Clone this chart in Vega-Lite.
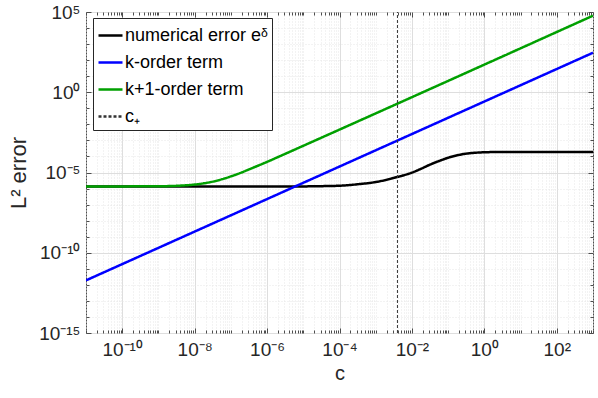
{
  "$schema": "https://vega.github.io/schema/vega-lite/v6.json",
  "width": 507,
  "height": 321,
  "autosize": {"type": "none"},
  "padding": {"left": 86, "top": 12, "right": 5, "bottom": 65},
  "background": "white",
  "config": {
    "font": "Liberation Sans",
    "view": {"stroke": "#4d4d4d", "strokeWidth": 1},
    "axis": {"labelFont": "Liberation Sans", "titleFont": "Liberation Sans", "labelColor": "#262626", "titleColor": "#262626", "titleFontWeight": "normal", "domain": false, "tickColor": "#4d4d4d", "labelOverlap": false, "labelBound": false, "labelFlush": false}
  },
  "data": {"values": [
    {"c": 1e-11, "e": 1.35e-6, "s": "numerical error eᵟ"},
    {"c": 1e-8, "e": 1.35e-6, "s": "numerical error eᵟ"},
    {"c": 1e-6, "e": 1.35e-6, "s": "numerical error eᵟ"},
    {"c": 1e-5, "e": 1.36e-6, "s": "numerical error eᵟ"},
    {"c": 3.16e-5, "e": 1.41e-6, "s": "numerical error eᵟ"},
    {"c": 1e-4, "e": 1.5e-6, "s": "numerical error eᵟ"},
    {"c": 3.16e-4, "e": 1.85e-6, "s": "numerical error eᵟ"},
    {"c": 1e-3, "e": 2.55e-6, "s": "numerical error eᵟ"},
    {"c": 1.78e-3, "e": 3.3e-6, "s": "numerical error eᵟ"},
    {"c": 3.16e-3, "e": 4.6e-6, "s": "numerical error eᵟ"},
    {"c": 5.62e-3, "e": 6.5e-6, "s": "numerical error eᵟ"},
    {"c": 1e-2, "e": 9.8e-6, "s": "numerical error eᵟ"},
    {"c": 1.78e-2, "e": 1.7e-5, "s": "numerical error eᵟ"},
    {"c": 3.16e-2, "e": 3.1e-5, "s": "numerical error eᵟ"},
    {"c": 5.62e-2, "e": 5.2e-5, "s": "numerical error eᵟ"},
    {"c": 0.1, "e": 8.3e-5, "s": "numerical error eᵟ"},
    {"c": 0.178, "e": 1.18e-4, "s": "numerical error eᵟ"},
    {"c": 0.316, "e": 1.5e-4, "s": "numerical error eᵟ"},
    {"c": 0.562, "e": 1.7e-4, "s": "numerical error eᵟ"},
    {"c": 1, "e": 1.82e-4, "s": "numerical error eᵟ"},
    {"c": 3.16, "e": 1.9e-4, "s": "numerical error eᵟ"},
    {"c": 10, "e": 1.9e-4, "s": "numerical error eᵟ"},
    {"c": 1000, "e": 1.9e-4, "s": "numerical error eᵟ"},
    {"c": 1e-11, "e": 1.9e-12, "s": "k-order term"},
    {"c": 1000, "e": 290, "s": "k-order term"},
    {"c": 1e-11, "e": 1.35e-6, "s": "k+1-order term"},
    {"c": 1e-9, "e": 1.39e-6, "s": "k+1-order term"},
    {"c": 3.16e-9, "e": 1.48e-6, "s": "k+1-order term"},
    {"c": 1e-8, "e": 1.78e-6, "s": "k+1-order term"},
    {"c": 1.78e-8, "e": 2.11e-6, "s": "k+1-order term"},
    {"c": 3.16e-8, "e": 2.7e-6, "s": "k+1-order term"},
    {"c": 5.62e-8, "e": 3.78e-6, "s": "k+1-order term"},
    {"c": 1e-7, "e": 5.72e-6, "s": "k+1-order term"},
    {"c": 1.78e-7, "e": 9.15e-6, "s": "k+1-order term"},
    {"c": 3.16e-7, "e": 1.55e-5, "s": "k+1-order term"},
    {"c": 1e-6, "e": 4.6e-5, "s": "k+1-order term"},
    {"c": 3.16e-6, "e": 1.45e-4, "s": "k+1-order term"},
    {"c": 1e-5, "e": 4.62e-4, "s": "k+1-order term"},
    {"c": 1000, "e": 59000, "s": "k+1-order term"},
    {"c": 0.00398, "e": 1e-15, "s": "c₊"},
    {"c": 0.00398, "e": 1e5, "s": "c₊"}
  ]},
  "encoding": {
    "color": {"field": "s", "type": "nominal",
      "scale": {"domain": ["numerical error eᵟ", "k-order term", "k+1-order term", "c₊"], "range": ["#000000", "#0000ff", "#00a000", "#333333"]},
      "legend": {"title": null, "orient": "none", "legendX": 7, "legendY": 6, "fillColor": "white", "strokeColor": "#262626", "padding": 4, "labelFontSize": 18, "labelColor": "#000000", "labelFont": "Liberation Sans", "symbolType": "stroke", "symbolSize": 576, "symbolStrokeWidth": 2.5, "rowPadding": 4, "labelOffset": 1}},
    "strokeDash": {"field": "s", "type": "nominal",
      "scale": {"domain": ["numerical error eᵟ", "k-order term", "k+1-order term", "c₊"], "range": [[1, 0], [1, 0], [1, 0], [3, 2]]},
      "legend": {"title": null}}
  },
  "resolve": {"axis": {"x": "independent", "y": "independent"}},
  "layer": [
    {"transform": [{"filter": "datum.s == 'numerical error eᵟ'"}], "mark": {"type": "line", "strokeWidth": 2.5, "interpolate": "monotone", "clip": true},
     "encoding": {
      "x": {"field": "c", "type": "quantitative",
        "scale": {"type": "log", "domain": [1e-11, 1000], "nice": false},
        "axis": {
          "orient": "bottom",
          "title": "c", "titleFontSize": 20, "titlePadding": 2,
          "labelFontSize": 19, "labelPadding": 12,
          "values": [1e-11,2e-11,3e-11,4e-11,5e-11,6e-11,7e-11,8e-11,9e-11,1e-10,2e-10,3e-10,4e-10,5e-10,6e-10,7e-10,8e-10,9e-10,1e-9,2e-9,3e-9,4e-9,5e-9,6e-9,7e-9,8e-9,9e-9,1e-8,2e-8,3e-8,4e-8,5e-8,6e-8,7e-8,8e-8,9e-8,1e-7,2e-7,3e-7,4e-7,5e-7,6e-7,7e-7,8e-7,9e-7,1e-6,2e-6,3e-6,4e-6,5e-6,6e-6,7e-6,8e-6,9e-6,1e-5,2e-5,3e-5,4e-5,5e-5,6e-5,7e-5,8e-5,9e-5,1e-4,2e-4,3e-4,4e-4,5e-4,6e-4,7e-4,8e-4,9e-4,1e-3,2e-3,3e-3,4e-3,5e-3,6e-3,7e-3,8e-3,9e-3,1e-2,2e-2,3e-2,4e-2,5e-2,6e-2,7e-2,8e-2,9e-2,0.1,0.2,0.3,0.4,0.5,0.6,0.7,0.8,0.9,1,2,3,4,5,6,7,8,9,10,20,30,40,50,60,70,80,90,100,200,300,400,500,600,700,800,900,1000],
          "labelExpr": "abs(log(datum.value)/LN10 - round(log(datum.value)/LN10)) > 0.001 ? '' : round(log(datum.value)/LN10) == -10 ? '10⁻¹⁰' : round(log(datum.value)/LN10) == -8 ? '10⁻⁸' : round(log(datum.value)/LN10) == -6 ? '10⁻⁶' : round(log(datum.value)/LN10) == -4 ? '10⁻⁴' : round(log(datum.value)/LN10) == -2 ? '10⁻²' : round(log(datum.value)/LN10) == 0 ? '10⁰' : round(log(datum.value)/LN10) == 2 ? '10²' : ''",
          "grid": true,
          "gridColor": {"condition": {"test": "abs(log(datum.value)/LN10 - round(log(datum.value)/LN10)) < 0.001 && round(log(datum.value)/LN10) % 2 == 0", "value": "#dedede"}, "value": "#e6e6e6"},
          "gridDash": {"condition": {"test": "abs(log(datum.value)/LN10 - round(log(datum.value)/LN10)) < 0.001 && round(log(datum.value)/LN10) % 2 == 0", "value": []}, "value": [1, 2]},
          "tickSize": {"condition": {"test": "abs(log(datum.value)/LN10 - round(log(datum.value)/LN10)) < 0.001 && round(log(datum.value)/LN10) % 2 == 0", "value": -5}, "value": -3}
        }},
      "y": {"field": "e", "type": "quantitative",
        "scale": {"type": "log", "domain": [1e-15, 1e5], "nice": false},
        "axis": {
          "orient": "left",
          "title": "L² error", "titleFontSize": 22, "titlePadding": 8,
          "labelFontSize": 19, "labelPadding": 11,
          "values": [1e-15,1e-14,1e-13,1e-12,1e-11,1e-10,1e-9,1e-8,1e-7,1e-6,1e-5,1e-4,1e-3,1e-2,0.1,1,10,100,1000,10000,100000],
          "labelExpr": "round(log(datum.value)/LN10) == -15 ? '10⁻¹⁵' : round(log(datum.value)/LN10) == -10 ? '10⁻¹⁰' : round(log(datum.value)/LN10) == -5 ? '10⁻⁵' : round(log(datum.value)/LN10) == 0 ? '10⁰' : round(log(datum.value)/LN10) == 5 ? '10⁵' : ''",
          "grid": true,
          "gridColor": {"condition": {"test": "round(log(datum.value)/LN10) % 5 == 0", "value": "#dedede"}, "value": "#e6e6e6"},
          "gridDash": {"condition": {"test": "round(log(datum.value)/LN10) % 5 == 0", "value": []}, "value": [1, 2]},
          "tickSize": {"condition": {"test": "round(log(datum.value)/LN10) % 5 == 0", "value": -5}, "value": -3}
        }}
     }},
    {"transform": [{"filter": "datum.s == 'k-order term'"}], "mark": {"type": "line", "strokeWidth": 2.5, "clip": true},
     "encoding": {"x": {"field": "c", "type": "quantitative", "axis": null}, "y": {"field": "e", "type": "quantitative", "axis": null}}},
    {"transform": [{"filter": "datum.s == 'k+1-order term'"}], "mark": {"type": "line", "strokeWidth": 2.5, "interpolate": "monotone", "clip": true},
     "encoding": {"x": {"field": "c", "type": "quantitative", "axis": null}, "y": {"field": "e", "type": "quantitative", "axis": null}}},
    {"transform": [{"filter": "datum.s == 'c₊'"}], "mark": {"type": "line", "strokeWidth": 1, "clip": true},
     "encoding": {
      "x": {"field": "c", "type": "quantitative",
        "axis": {"orient": "top", "title": null, "labels": false, "grid": false,
          "values": [1e-11,2e-11,3e-11,4e-11,5e-11,6e-11,7e-11,8e-11,9e-11,1e-10,2e-10,3e-10,4e-10,5e-10,6e-10,7e-10,8e-10,9e-10,1e-9,2e-9,3e-9,4e-9,5e-9,6e-9,7e-9,8e-9,9e-9,1e-8,2e-8,3e-8,4e-8,5e-8,6e-8,7e-8,8e-8,9e-8,1e-7,2e-7,3e-7,4e-7,5e-7,6e-7,7e-7,8e-7,9e-7,1e-6,2e-6,3e-6,4e-6,5e-6,6e-6,7e-6,8e-6,9e-6,1e-5,2e-5,3e-5,4e-5,5e-5,6e-5,7e-5,8e-5,9e-5,1e-4,2e-4,3e-4,4e-4,5e-4,6e-4,7e-4,8e-4,9e-4,1e-3,2e-3,3e-3,4e-3,5e-3,6e-3,7e-3,8e-3,9e-3,1e-2,2e-2,3e-2,4e-2,5e-2,6e-2,7e-2,8e-2,9e-2,0.1,0.2,0.3,0.4,0.5,0.6,0.7,0.8,0.9,1,2,3,4,5,6,7,8,9,10,20,30,40,50,60,70,80,90,100,200,300,400,500,600,700,800,900,1000],
          "tickSize": {"condition": {"test": "abs(log(datum.value)/LN10 - round(log(datum.value)/LN10)) < 0.001 && round(log(datum.value)/LN10) % 2 == 0", "value": -5}, "value": -3}}},
      "y": {"field": "e", "type": "quantitative",
        "axis": {"orient": "right", "title": null, "labels": false, "grid": false,
          "values": [1e-15,1e-14,1e-13,1e-12,1e-11,1e-10,1e-9,1e-8,1e-7,1e-6,1e-5,1e-4,1e-3,1e-2,0.1,1,10,100,1000,10000,100000],
          "tickSize": {"condition": {"test": "round(log(datum.value)/LN10) % 5 == 0", "value": -5}, "value": -3}}}
     }}
  ]
}
